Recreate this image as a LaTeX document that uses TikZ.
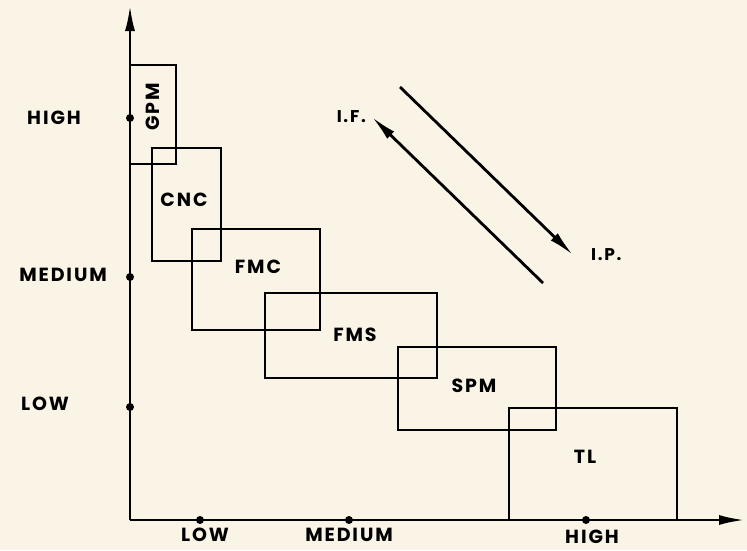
\documentclass[tikz,border=0pt]{standalone}
\usepackage{fontspec}
\newfontfamily\lblfont[LetterSpace=10]{Poppins}
\usetikzlibrary{arrows.meta,positioning}
\definecolor{paper}{HTML}{FAF4E6}

\begin{document}
\begin{tikzpicture}[x=1pt, y=-1pt, >={Latex[length=26pt,width=10pt]},
		ax/.style={line width=2.8pt},
		box/.style={line width=2.8pt},
		tick/.style={circle, fill=black, inner sep=0pt, minimum size=8pt},
		lbl/.style={font=\lblfont\bfseries\fontsize{19}{19}\selectfont, inner sep=0pt},
		small/.style={font=\lblfont\bfseries\fontsize{17}{17}\selectfont, inner sep=0pt}]
		\fill[paper] (0,0) rectangle (747,550);
		\useasboundingbox (0,0) rectangle (747,550);
		% axes
		\coordinate (o) at (130,520);
		\coordinate (ytop) at (130,5);
		\coordinate (xend) at (745,520);
		\draw[ax, ->] (o) -- (ytop);
		\draw[ax, ->] (o) -- (xend);
		% ticks on the axes
		\node[tick] (yh) at (130,118) {};
		\node[tick] (ym) at (130,277) {};
		\node[tick] (yl) at (130,407) {};
		\node[tick] (xl) at (200,520) {};
		\node[tick] (xm) at (349,520) {};
		\node[tick] (xh) at (586,520) {};
		\node[lbl] (yhigh) at (54,118) {HIGH};
		\node[lbl] (ymed) at (63,275) {MEDIUM};
		\node[lbl] (ylow) at (45,404) {LOW};
		\node[lbl] (xlow) at (205,535) {LOW};
		\node[lbl] (xmed) at (349,535) {MEDIUM};
		\node[lbl] (xhigh) at (592,537) {HIGH};
		% machine boxes
		\draw[box] (130,65) rectangle (176,164);
		\draw[box] (152,148) rectangle (221,261);
		\draw[box] (192,229) rectangle (320,330);
		\draw[box] (265,293) rectangle (437,378);
		\draw[box] (398,347) rectangle (556,430);
		\draw[box] (509,408) rectangle (677,520);
		\node[lbl, rotate=90] (gpm) at (153,107) {GPM};
		\node[lbl] (cnc) at (184,200) {CNC};
		\node[lbl] (fmc) at (258,267) {FMC};
		\node[lbl] (fms) at (355,335) {FMS};
		\node[lbl] (spm) at (474,386) {SPM};
		\node[lbl] (tl) at (585,457) {TL};
		% flexibility / productivity arrows
		\coordinate (if0) at (543,283);
		\coordinate (if1) at (372,117);
		\coordinate (ip0) at (400,87);
		\coordinate (ip1) at (573,255);
		\draw[ax, ->] (if0) -- (if1);
		\draw[ax, ->] (ip0) -- (ip1);
		\node[small, left=6pt of if1] (iflbl) {I.F.};
		\node[small, right=18pt of ip1] (iplbl) {I.P.};
	\end{tikzpicture}
\end{document}
